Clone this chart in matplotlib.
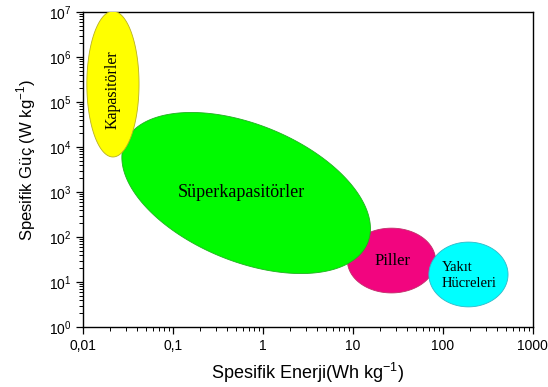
import numpy as np
import matplotlib.pyplot as plt
from matplotlib.ticker import LogLocator, NullFormatter

# storage technologies: centre of each region (energy in Wh/kg, power in W/kg)
names = ['Piller', 'Süperkapasitörler', 'Kapasitörler', 'Yakıt\nHücreleri']
energy = [26.8, 0.65, 0.0215, 192]
power = [30, 950, 2.5e5, 14.7]
# semi-axes in energy decades as seen on screen, tilt in degrees
half_w = [0.49, 1.46, 0.29, 0.44]
half_h = [0.36, 0.76, 0.81, 0.36]
tilt = [0, -22.3, 0, 0]
colors = ['#f2057f', '#00fa00', '#ffff00', '#00ffff']
edges = ['#c0306a', '#20b020', '#b8b020', '#30b8c8']

label_energy = [27.5, 0.57, 0.0215, 195]
label_power = [30, 1000, 1.85e5, 14]
label_size = [12, 13, 11.5, 10.5]

xticks = [0.01, 0.1, 1, 10, 100, 1000]
xticklabels = ['0,01', '0,1', '1', '10', '100', '1000']
yexp = list(range(0, 8))

fig = plt.figure(figsize=(5.48, 3.87), dpi=100)
ax = fig.add_axes([0.1515, 0.155, 0.821, 0.814])
ax.set_xscale('log')
ax.set_yscale('log')
ax.set_xlim(0.01, 1000)
ax.set_ylim(1, 1e7)

# ratio of screen length of one power decade to one energy decade
bb = ax.get_position()
k = (bb.height * 3.87 / 7) / (bb.width * 5.48 / 5)

t = np.linspace(0, 2 * np.pi, 300)
for z in range(len(names)):
    th = np.radians(tilt[z])
    X = half_w[z] * np.cos(t) * np.cos(th) - half_h[z] * np.sin(t) * np.sin(th)
    Y = half_w[z] * np.cos(t) * np.sin(th) + half_h[z] * np.sin(t) * np.cos(th)
    xs = 10 ** (np.log10(energy[z]) + X)
    ys = 10 ** (np.log10(power[z]) + Y / k)
    ax.fill(xs, ys, facecolor=colors[z], edgecolor=edges[z], lw=0.6, zorder=2 + z)
    rot = 90 if names[z] == 'Kapasitörler' else 0
    ax.text(label_energy[z], label_power[z], names[z], ha='center', va='center',
            rotation=rot, fontsize=label_size[z], family='Liberation Serif',
            multialignment='left', linespacing=1.25, zorder=10)

ax.set_xticks(xticks)
ax.set_xticklabels(xticklabels)
ax.set_yticks([10.0 ** e for e in yexp])
ax.set_yticklabels([r'$\mathregular{10^{%d}}$' % e for e in yexp])
ax.xaxis.set_minor_locator(LogLocator(base=10, subs=np.arange(2, 10), numticks=20))
ax.yaxis.set_minor_locator(LogLocator(base=10, subs=np.arange(2, 10), numticks=20))
ax.xaxis.set_minor_formatter(NullFormatter())
ax.yaxis.set_minor_formatter(NullFormatter())
ax.tick_params(which='major', direction='out', length=5, width=0.9,
               labelsize=10, top=False, right=False)
ax.tick_params(which='minor', direction='out', length=3, width=0.7,
               top=False, right=False)
for lab in ax.get_xticklabels() + ax.get_yticklabels():
    lab.set_family('Liberation Sans')

for s in ax.spines.values():
    s.set_linewidth(1.0)

ax.set_xlabel(r'Spesifik Enerji(Wh kg$^{\mathregular{-1}}$)', fontsize=13,
              family='Liberation Sans', labelpad=6)
ax.set_ylabel(r'Spesifik Güç (W kg$^{\mathregular{-1}}$)', fontsize=12,
              family='Liberation Sans')
ax.yaxis.set_label_coords(-0.10, 0.53)

fig.savefig('out.png', dpi=100)
